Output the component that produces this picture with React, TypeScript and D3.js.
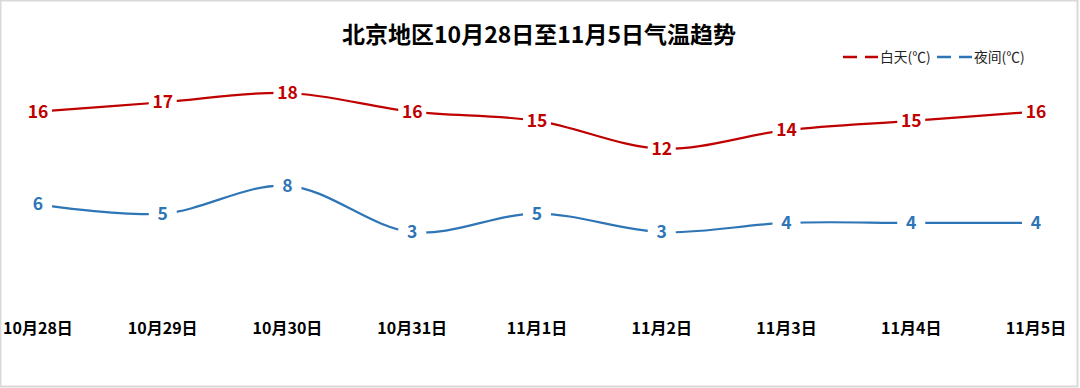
import React from "react";
import * as d3 from "d3";

const categories = ["10月28日", "10月29日", "10月30日", "10月31日", "11月1日", "11月2日", "11月3日", "11月4日", "11月5日"];
const dayTemps = [16, 17, 18, 16, 15, 12, 14, 15, 16];
const nightTemps = [6, 5, 8, 3, 5, 3, 4, 4, 4];
const seriesNames = ["白天(℃)", "夜间(℃)"];
const title = "北京地区10月28日至11月5日气温趋势";

const W = 1080;
const H = 388;
const RED = "#C00000";
const BLUE = "#2E75B6";
const FONT = "'Noto Sans CJK SC', 'Noto Sans', sans-serif";

export default function App() {
  const x = d3.scalePoint<string>().domain(categories).range([38, 1036]);
  const y = d3.scaleLinear().domain([0, 18]).range([260, 93]);
  const line = d3
    .line<number>()
    .x((_, i) => x(categories[i]) as number)
    .y((d) => y(d))
    .curve(d3.curveCatmullRom.alpha(0.5));

  const series = [
    { name: seriesNames[0], values: dayTemps, color: RED },
    { name: seriesNames[1], values: nightTemps, color: BLUE },
  ];

  return (
    <div style={{ position: "fixed", left: 0, top: 0 }}>
      <svg width={W} height={H} style={{ display: "block", fontFamily: FONT }}>
        <rect x={0} y={0} width={W} height={H} fill="#fff" />
        <rect x={0.5} y={0.5} width={1077} height={386} fill="none" stroke="#d9d9d9" strokeWidth={2} />
        <text x={539} y={43} textAnchor="middle" fontSize={23} fontWeight="bold" fill="#000">
          {title}
        </text>
        {/* legend */}
        {series.map((s, i) => {
          const lx = 843 + i * 94;
          return (
            <g key={s.name}>
              <line x1={lx} x2={lx + 35} y1={57} y2={57} stroke={s.color} strokeWidth={2.5} strokeDasharray="14 8" />
              <text x={lx + 37} y={62} fontSize={13.8} fill="#222">
                {s.name}
              </text>
            </g>
          );
        })}
        {series.map((s) => (
          <g key={s.name}>
            <path d={line(s.values) || ""} fill="none" stroke={s.color} strokeWidth={2.2} />
            {s.values.map((v, i) => (
              <g key={i}>
                <rect x={(x(categories[i]) as number) - 14} y={y(v) - 11} width={28} height={22} fill="#fff" />
                <text
                  x={x(categories[i]) as number}
                  y={y(v) + 6}
                  textAnchor="middle"
                  fontSize={17.5}
                  fontWeight="bold"
                  fill={s.color}
                >
                  {v}
                </text>
              </g>
            ))}
          </g>
        ))}
        {categories.map((c) => (
          <text key={c} x={x(c) as number} y={334} textAnchor="middle" fontSize={16} fontWeight="bold" fill="#000">
            {c}
          </text>
        ))}
      </svg>
    </div>
  );
}
